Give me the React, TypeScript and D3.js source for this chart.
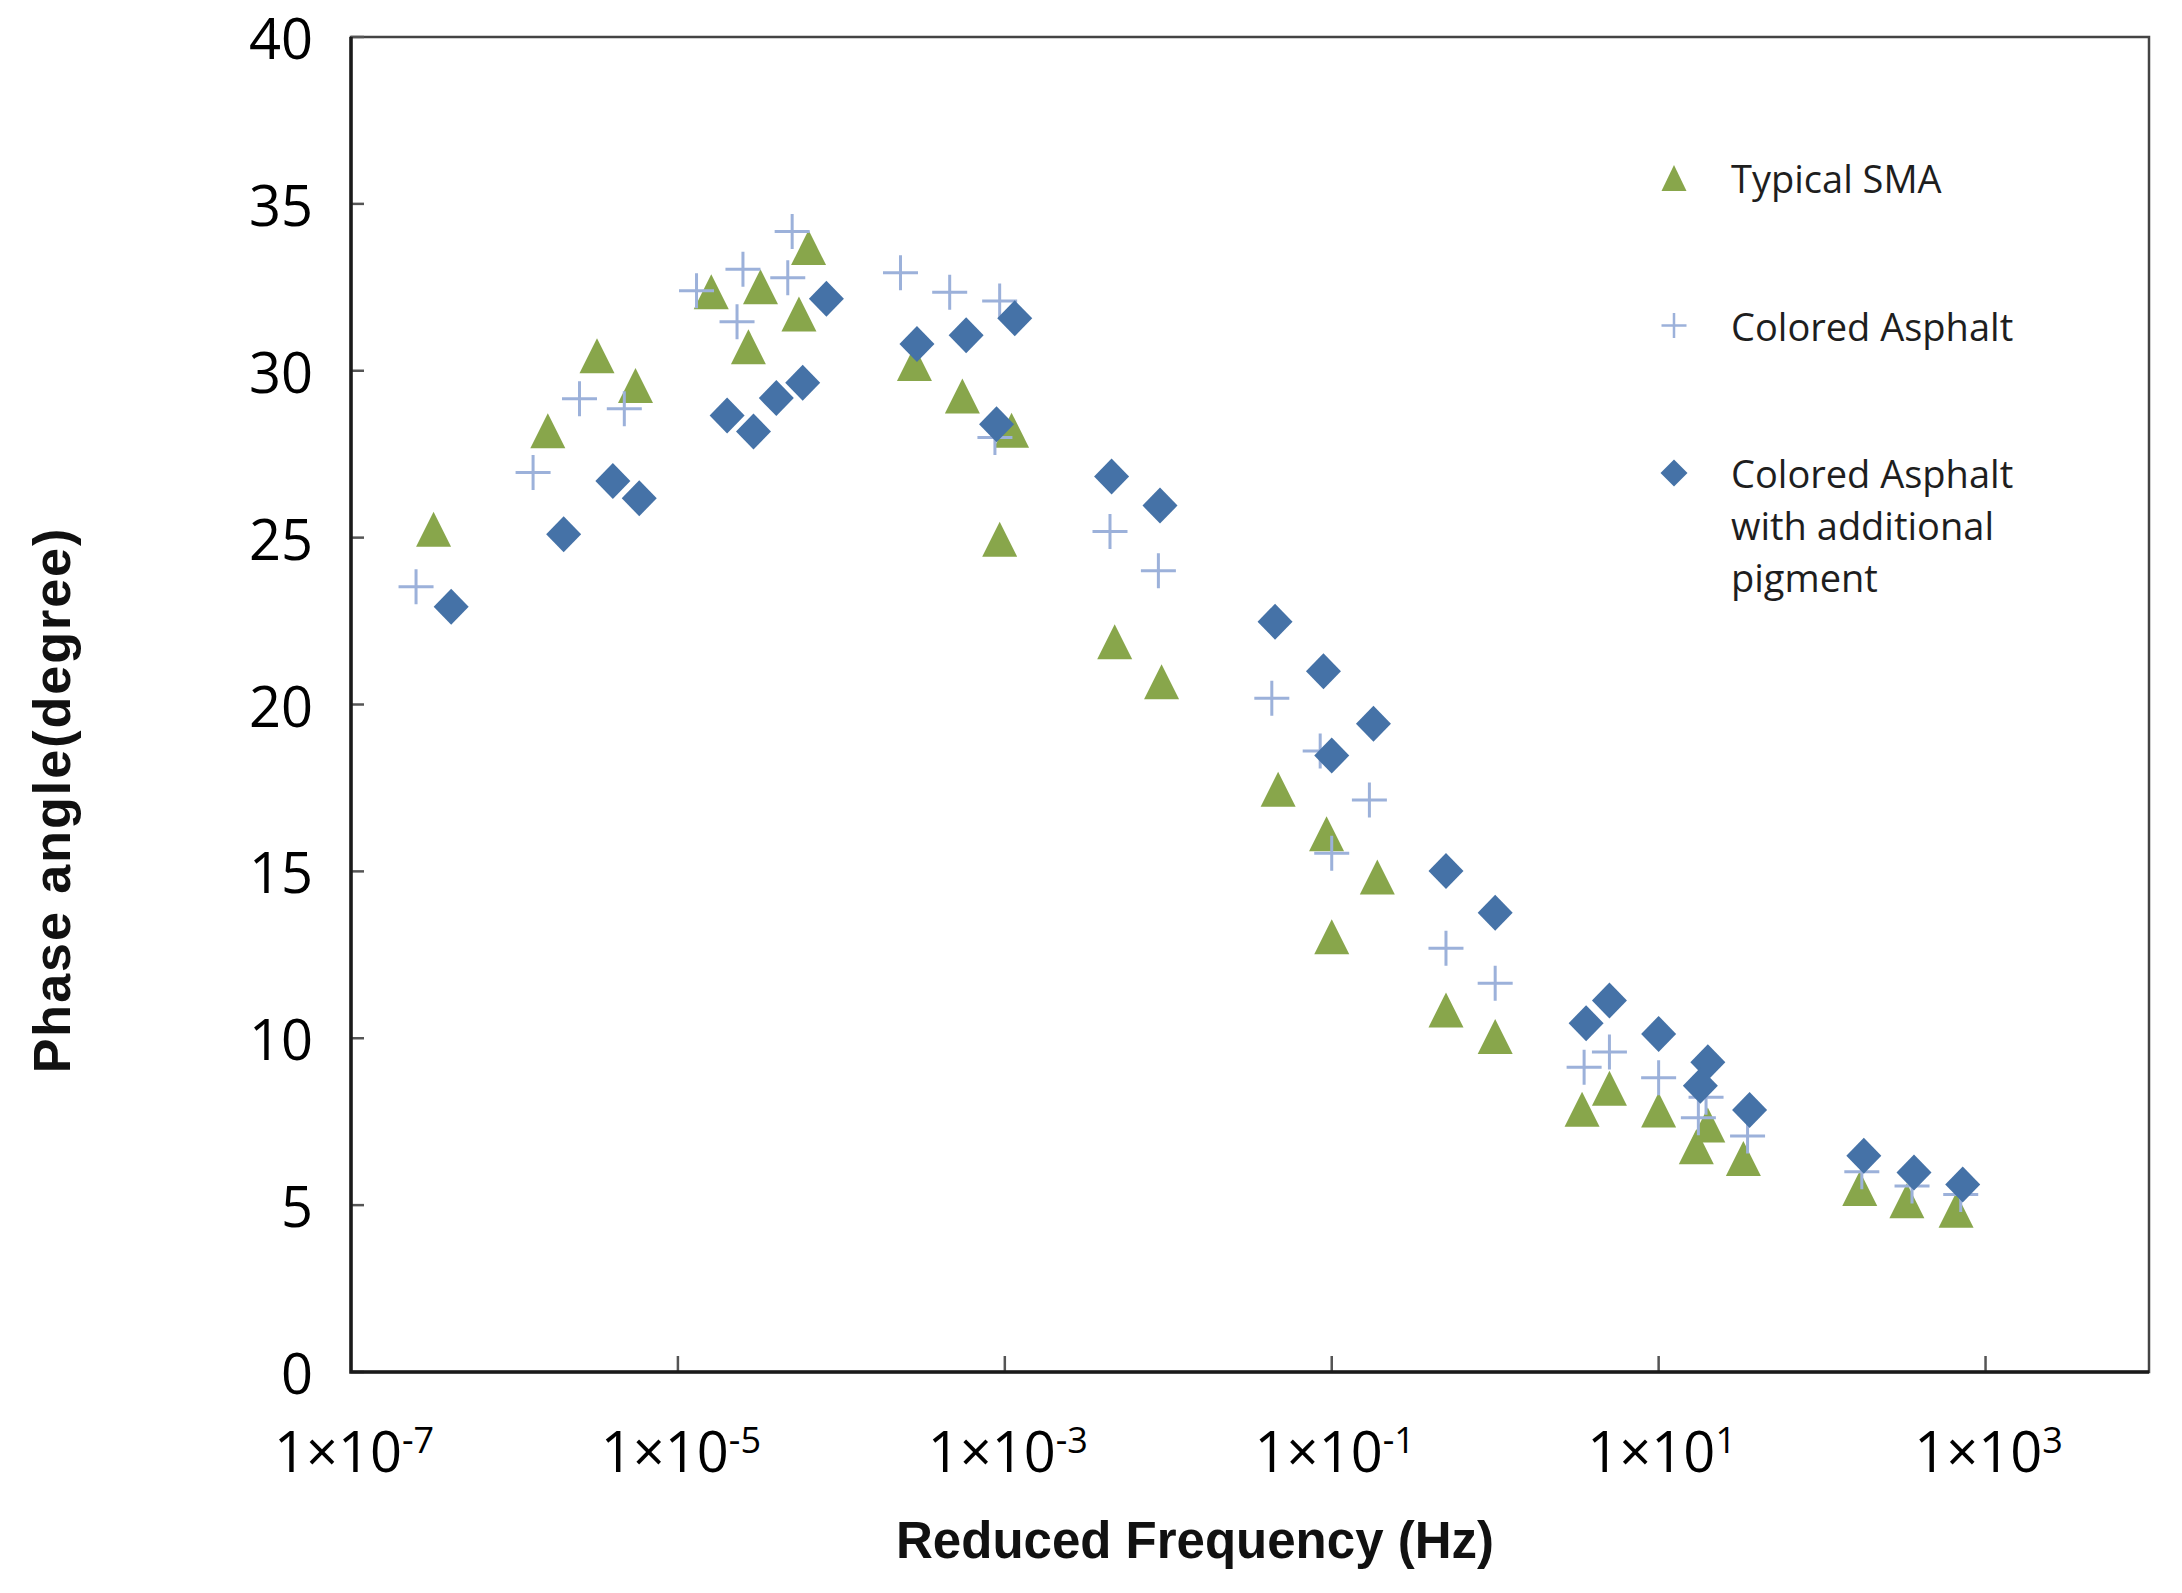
import { useEffect, useRef } from "react";
import * as d3 from "d3";

// tick labels
const yTicks = [0, 5, 10, 15, 20, 25, 30, 35, 40];
const xTickExps = [-5, -3, -1, 1, 3];
const xLabelExps = [-7, -5, -3, -1, 1, 3];

// Typical SMA (triangles)
const smaFreq = [
  3.2e-7, 1.6e-6, 3.2e-6, 5.5e-6, 1.6e-5, 3.2e-5, 2.7e-5, 5.5e-5, 6.3e-5, 2.8e-4,
  5.5e-4, 1.1e-3, 9.3e-4, 4.7e-3, 9.1e-3, 0.047, 0.093, 0.19, 0.1, 0.5,
  1, 3.4, 5, 10, 20, 17, 33, 170, 330, 660,
];
const smaPhase = [
  25.25, 28.2, 30.45, 29.56, 32.37, 32.52, 30.72, 31.7, 33.69, 30.22,
  29.24, 28.22, 24.95, 21.88, 20.68, 17.46, 16.13, 14.83, 13.04, 10.85,
  10.05, 7.87, 8.5, 7.85, 7.4, 6.75, 6.4, 5.5, 5.13, 4.85,
];

// Colored Asphalt (plus)
const caFreq = [
  2.5e-7, 1.3e-6, 2.5e-6, 4.7e-6, 1.3e-5, 2.5e-5, 2.3e-5, 4.7e-5, 5.0e-5, 2.3e-4,
  4.6e-4, 9.3e-4, 8.7e-4, 4.4e-3, 8.7e-3, 0.043, 0.085, 0.17, 0.1, 0.5,
  1, 3.5, 5, 10, 19.5, 17.5, 35, 175, 355, 705,
];
const caPhase = [
  23.53, 26.95, 29.16, 28.86, 32.4, 33.04, 31.47, 32.79, 34.17, 32.94,
  32.35, 32.09, 28.0, 25.18, 24.01, 20.19, 18.61, 17.14, 15.54, 12.7,
  11.65, 9.13, 9.59, 8.82, 8.23, 7.62, 7.07, 6.0, 5.57, 5.32,
];

// Colored Asphalt with additional pigment (diamonds)
const capFreq = [
  4.1e-7, 2.0e-6, 4.0e-6, 5.8e-6, 2.0e-5, 2.9e-5, 4.0e-5, 5.8e-5, 8.1e-5, 2.9e-4,
  5.8e-4, 1.15e-3, 8.9e-4, 4.5e-3, 8.9e-3, 0.045, 0.089, 0.18, 0.1, 0.5,
  1, 3.6, 5, 10, 20, 18, 36, 180, 365, 725,
];
const capPhase = [
  22.93, 25.1, 26.7, 26.18, 28.66, 28.18, 29.18, 29.64, 32.16, 30.8,
  31.06, 31.57, 28.4, 26.83, 25.96, 22.48, 21.0, 19.42, 18.47, 15.01,
  13.76, 10.45, 11.13, 10.13, 9.28, 8.58, 7.85, 6.48, 5.98, 5.62,
];

const legendLines = [["Typical SMA"], ["Colored Asphalt"], ["Colored Asphalt", "with additional", "pigment"]];

const GREEN = "#88a64b";
const LIGHT = "#9cb1da";
const BLUE = "#4572a7";

const triPath = (w: number, h: number) => `M0,${-h / 2}L${w / 2},${h / 2}L${-w / 2},${h / 2}Z`;
const diaPath = (w: number, h: number) => `M0,${-h / 2}L${w / 2},0L0,${h / 2}L${-w / 2},0Z`;
const plusPath = (s: number) => `M${-s / 2},0H${s / 2}M0,${-s / 2}V${s / 2}`;

export default function App() {
  const svgRef = useRef<SVGSVGElement>(null);

  useEffect(() => {
    document.body.style.margin = "0";
    if (!svgRef.current) return;
    const svg = d3.select(svgRef.current);
    svg.selectAll("*").remove();

    const width = 2182;
    const height = 1593;
    const x = d3.scaleLog().domain([1e-7, 1e4]).range([351, 2149]);
    const y = d3.scaleLinear().domain([0, 40]).range([1372, 37]);

    svg.attr("width", width).attr("height", height).style("background", "#fff");

    // frame
    svg
      .append("rect")
      .attr("x", x(1e-7))
      .attr("y", y(40))
      .attr("width", x(1e4) - x(1e-7))
      .attr("height", y(0) - y(40))
      .attr("fill", "none")
      .attr("stroke", "#444")
      .attr("stroke-width", 2.5);

    // y ticks
    svg
      .selectAll("line.yt")
      .data(yTicks)
      .enter()
      .append("line")
      .attr("x1", x(1e-7))
      .attr("x2", x(1e-7) + 13)
      .attr("y1", (d) => y(d))
      .attr("y2", (d) => y(d))
      .attr("stroke", "#555")
      .attr("stroke-width", 2.5);

    svg
      .selectAll("text.yl")
      .data(yTicks)
      .enter()
      .append("text")
      .attr("x", 313)
      .attr("y", (d) => y(d) + 22)
      .attr("text-anchor", "end")
      .attr("font-family", "Open Sans")
      .attr("font-size", 56)
      .attr("fill", "#000")
      .text((d) => d);

    // x ticks
    svg
      .selectAll("line.xt")
      .data(xTickExps)
      .enter()
      .append("line")
      .attr("x1", (d) => x(Math.pow(10, d)))
      .attr("x2", (d) => x(Math.pow(10, d)))
      .attr("y1", y(0))
      .attr("y2", y(0) - 16)
      .attr("stroke", "#555")
      .attr("stroke-width", 2.5);

    const xl = svg
      .selectAll("text.xl")
      .data(xLabelExps)
      .enter()
      .append("text")
      .attr("x", (d) => x(Math.pow(10, d)) + 3)
      .attr("y", 1472)
      .attr("text-anchor", "middle")
      .attr("font-family", "Open Sans")
      .attr("font-size", 56)
      .attr("fill", "#000");
    xl.append("tspan").text("1\u00d710");
    xl.append("tspan")
      .attr("font-size", 36)
      .attr("dy", -19)
      .text((d) => (d < 0 ? `-${-d}` : `${d}`));

    // axis lines
    svg
      .append("path")
      .attr("d", `M${x(1e-7)},${y(40)}V${y(0)}H${x(1e4)}`)
      .attr("fill", "none")
      .attr("stroke", "#1a1a1a")
      .attr("stroke-width", 3.5);

    // titles
    svg
      .append("text")
      .attr("x", 1195)
      .attr("y", 1558)
      .attr("text-anchor", "middle")
      .attr("font-family", "Liberation Sans")
      .attr("font-weight", "bold")
      .attr("font-size", 51)
      .attr("fill", "#111")
      .text("Reduced Frequency (Hz)");

    svg
      .append("text")
      .attr("transform", "translate(70,800) rotate(-90)")
      .attr("text-anchor", "middle")
      .attr("font-family", "Liberation Sans")
      .attr("font-weight", "bold")
      .attr("font-size", 52)
      .attr("letter-spacing", 2)
      .attr("fill", "#111")
      .text("Phase angle(degree)");

    // data
    const g = svg.append("g");
    g.selectAll("path.sma")
      .data(d3.zip(smaFreq, smaPhase))
      .enter()
      .append("path")
      .attr("transform", (d) => `translate(${x(d[0])},${y(d[1])})`)
      .attr("d", triPath(35, 35))
      .attr("fill", GREEN);

    g.selectAll("path.ca")
      .data(d3.zip(caFreq, caPhase))
      .enter()
      .append("path")
      .attr("transform", (d) => `translate(${x(d[0])},${y(d[1])})`)
      .attr("d", plusPath(35))
      .attr("fill", "none")
      .attr("stroke", LIGHT)
      .attr("stroke-width", 3);

    g.selectAll("path.cap")
      .data(d3.zip(capFreq, capPhase))
      .enter()
      .append("path")
      .attr("transform", (d) => `translate(${x(d[0])},${y(d[1])})`)
      .attr("d", diaPath(35, 36))
      .attr("fill", BLUE);

    // legend
    const legendY = [178, 325.5, 473];
    const leg = svg.append("g");
    leg.append("path").attr("transform", `translate(1674,${legendY[0]})`).attr("d", triPath(25, 26)).attr("fill", GREEN);
    leg
      .append("path")
      .attr("transform", `translate(1674,${legendY[1]})`)
      .attr("d", plusPath(25))
      .attr("stroke", LIGHT)
      .attr("stroke-width", 2.5);
    leg.append("path").attr("transform", `translate(1674,${legendY[2]})`).attr("d", diaPath(27, 27)).attr("fill", BLUE);

    legendLines.forEach((lines, i) => {
      lines.forEach((line, j) => {
        leg
          .append("text")
          .attr("x", 1731)
          .attr("y", legendY[i] + 15 + j * 52)
          .attr("font-family", "Open Sans")
          .attr("font-size", 38)
          .attr("font-weight", 500)
          .attr("fill", "#1e1e1e")
          .text(line);
      });
    });
  }, []);

  return <svg ref={svgRef} style={{ display: "block" }} />;
}
